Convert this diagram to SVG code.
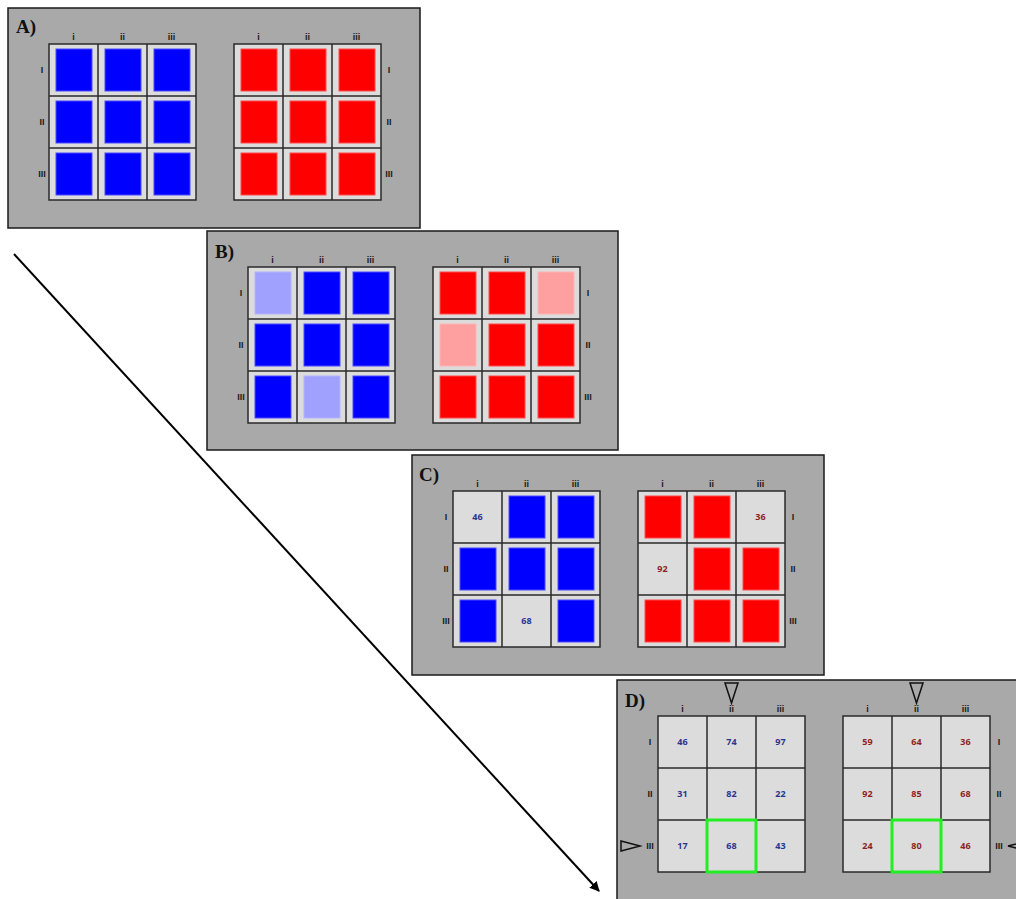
<svg xmlns="http://www.w3.org/2000/svg" width="1016" height="899" viewBox="0 0 1016 899">
<style>
.pbg{fill:#a9a9a9;stroke:#1a1a1a;stroke-width:1.5}
.grid{fill:#dcdcdc;stroke:#2a2a2a;stroke-width:1.5}
.gl{stroke:#2a2a2a;stroke-width:1.5}
.b{fill:#0000ff;stroke:#4a4aff;stroke-width:1}
.lb{fill:#a0a0ff;stroke:#b4b4ff;stroke-width:1}
.r{fill:#ff0000;stroke:#ff4a4a;stroke-width:1}
.lr{fill:#ffa0a0;stroke:#ffb4b4;stroke-width:1}
.ax{font-family:"Liberation Sans",Arial,sans-serif;font-weight:bold;font-size:9px;fill:#1a1a1a;text-anchor:middle}
.pl{font-family:"Liberation Serif","Times New Roman",serif;font-weight:bold;font-size:19px;fill:#111}
.nb{font-family:"Open Sans","Liberation Sans",sans-serif;font-weight:bold;font-size:9px;fill:#2a3590;text-anchor:middle}
.nr{font-family:"Open Sans","Liberation Sans",sans-serif;font-weight:bold;font-size:9px;fill:#8e1f1f;text-anchor:middle}
.hl{fill:none;stroke:#22ee22;stroke-width:3}
.tri{fill:none;stroke:#111;stroke-width:1.5}
.conn{stroke:#000;stroke-width:2;fill:none}
</style>
<defs>
<marker id="arr" viewBox="0 0 10 10" refX="9" refY="5" markerWidth="5" markerHeight="5" orient="auto" markerUnits="strokeWidth">
<path d="M0,0 L10,5 L0,10 z" fill="#000"/>
</marker>
<g id="frame">
<rect class="grid" x="41" y="36" width="147" height="156"/>
<line class="gl" x1="90" y1="36" x2="90" y2="192"/>
<line class="gl" x1="139" y1="36" x2="139" y2="192"/>
<line class="gl" x1="41" y1="88" x2="188" y2="88"/>
<line class="gl" x1="41" y1="140" x2="188" y2="140"/>
<rect class="grid" x="226" y="36" width="147" height="156"/>
<line class="gl" x1="275" y1="36" x2="275" y2="192"/>
<line class="gl" x1="324" y1="36" x2="324" y2="192"/>
<line class="gl" x1="226" y1="88" x2="373" y2="88"/>
<line class="gl" x1="226" y1="140" x2="373" y2="140"/>
</g>
</defs>

<g id="connectors">
<line class="conn" x1="14" y1="254" x2="599" y2="891" marker-end="url(#arr)"/>
</g>

<g id="panelA" transform="translate(8,8)">
<rect class="pbg" x="0" y="0" width="412" height="220"/>
<text class="pl" x="8" y="25">A)</text>
<use href="#frame"/>
<rect class="b" x="48" y="41" width="36" height="42"/><rect class="b" x="97" y="41" width="36" height="42"/><rect class="b" x="146" y="41" width="36" height="42"/>
<rect class="b" x="48" y="93" width="36" height="42"/><rect class="b" x="97" y="93" width="36" height="42"/><rect class="b" x="146" y="93" width="36" height="42"/>
<rect class="b" x="48" y="145" width="36" height="42"/><rect class="b" x="97" y="145" width="36" height="42"/><rect class="b" x="146" y="145" width="36" height="42"/>
<rect class="r" x="233" y="41" width="36" height="42"/><rect class="r" x="282" y="41" width="36" height="42"/><rect class="r" x="331" y="41" width="36" height="42"/>
<rect class="r" x="233" y="93" width="36" height="42"/><rect class="r" x="282" y="93" width="36" height="42"/><rect class="r" x="331" y="93" width="36" height="42"/>
<rect class="r" x="233" y="145" width="36" height="42"/><rect class="r" x="282" y="145" width="36" height="42"/><rect class="r" x="331" y="145" width="36" height="42"/>
<text class="ax" x="65.5" y="32">i</text><text class="ax" x="114.5" y="32">ii</text><text class="ax" x="163.5" y="32">iii</text>
<text class="ax" x="250.5" y="32">i</text><text class="ax" x="299.5" y="32">ii</text><text class="ax" x="348.5" y="32">iii</text>
<text class="ax" x="34" y="65">I</text><text class="ax" x="34" y="117">II</text><text class="ax" x="34" y="169">III</text>
<text class="ax" x="381" y="65">I</text><text class="ax" x="381" y="117">II</text><text class="ax" x="381" y="169">III</text>
</g>

<g id="panelB" transform="translate(207,231)">
<rect class="pbg" x="0" y="0" width="411" height="219"/>
<text class="pl" x="8" y="27">B)</text>
<use href="#frame"/>
<rect class="lb" x="48" y="41" width="36" height="42"/><rect class="b" x="97" y="41" width="36" height="42"/><rect class="b" x="146" y="41" width="36" height="42"/>
<rect class="b" x="48" y="93" width="36" height="42"/><rect class="b" x="97" y="93" width="36" height="42"/><rect class="b" x="146" y="93" width="36" height="42"/>
<rect class="b" x="48" y="145" width="36" height="42"/><rect class="lb" x="97" y="145" width="36" height="42"/><rect class="b" x="146" y="145" width="36" height="42"/>
<rect class="r" x="233" y="41" width="36" height="42"/><rect class="r" x="282" y="41" width="36" height="42"/><rect class="lr" x="331" y="41" width="36" height="42"/>
<rect class="lr" x="233" y="93" width="36" height="42"/><rect class="r" x="282" y="93" width="36" height="42"/><rect class="r" x="331" y="93" width="36" height="42"/>
<rect class="r" x="233" y="145" width="36" height="42"/><rect class="r" x="282" y="145" width="36" height="42"/><rect class="r" x="331" y="145" width="36" height="42"/>
<text class="ax" x="65.5" y="32">i</text><text class="ax" x="114.5" y="32">ii</text><text class="ax" x="163.5" y="32">iii</text>
<text class="ax" x="250.5" y="32">i</text><text class="ax" x="299.5" y="32">ii</text><text class="ax" x="348.5" y="32">iii</text>
<text class="ax" x="34" y="65">I</text><text class="ax" x="34" y="117">II</text><text class="ax" x="34" y="169">III</text>
<text class="ax" x="381" y="65">I</text><text class="ax" x="381" y="117">II</text><text class="ax" x="381" y="169">III</text>
</g>

<g id="panelC" transform="translate(412,455)">
<rect class="pbg" x="0" y="0" width="412" height="220"/>
<text class="pl" x="7" y="26">C)</text>
<use href="#frame"/>
<text class="nb" x="65.5" y="65">46</text><rect class="b" x="97" y="41" width="36" height="42"/><rect class="b" x="146" y="41" width="36" height="42"/>
<rect class="b" x="48" y="93" width="36" height="42"/><rect class="b" x="97" y="93" width="36" height="42"/><rect class="b" x="146" y="93" width="36" height="42"/>
<rect class="b" x="48" y="145" width="36" height="42"/><text class="nb" x="114.5" y="169">68</text><rect class="b" x="146" y="145" width="36" height="42"/>
<rect class="r" x="233" y="41" width="36" height="42"/><rect class="r" x="282" y="41" width="36" height="42"/><text class="nr" x="348.5" y="65">36</text>
<text class="nr" x="250.5" y="117">92</text><rect class="r" x="282" y="93" width="36" height="42"/><rect class="r" x="331" y="93" width="36" height="42"/>
<rect class="r" x="233" y="145" width="36" height="42"/><rect class="r" x="282" y="145" width="36" height="42"/><rect class="r" x="331" y="145" width="36" height="42"/>
<text class="ax" x="65.5" y="32">i</text><text class="ax" x="114.5" y="32">ii</text><text class="ax" x="163.5" y="32">iii</text>
<text class="ax" x="250.5" y="32">i</text><text class="ax" x="299.5" y="32">ii</text><text class="ax" x="348.5" y="32">iii</text>
<text class="ax" x="34" y="65">I</text><text class="ax" x="34" y="117">II</text><text class="ax" x="34" y="169">III</text>
<text class="ax" x="381" y="65">I</text><text class="ax" x="381" y="117">II</text><text class="ax" x="381" y="169">III</text>
</g>

<g id="panelD" transform="translate(617,680)">
<rect class="pbg" x="0" y="0" width="412" height="230"/>
<text class="pl" x="8" y="27">D)</text>
<use href="#frame"/>
<rect class="hl" x="90" y="140" width="49" height="52"/>
<rect class="hl" x="275" y="140" width="49" height="52"/>
<text class="nb" x="65.5" y="65">46</text><text class="nb" x="114.5" y="65">74</text><text class="nb" x="163.5" y="65">97</text>
<text class="nb" x="65.5" y="117">31</text><text class="nb" x="114.5" y="117">82</text><text class="nb" x="163.5" y="117">22</text>
<text class="nb" x="65.5" y="169">17</text><text class="nb" x="114.5" y="169">68</text><text class="nb" x="163.5" y="169">43</text>
<text class="nr" x="250.5" y="65">59</text><text class="nr" x="299.5" y="65">64</text><text class="nr" x="348.5" y="65">36</text>
<text class="nr" x="250.5" y="117">92</text><text class="nr" x="299.5" y="117">85</text><text class="nr" x="348.5" y="117">68</text>
<text class="nr" x="250.5" y="169">24</text><text class="nr" x="299.5" y="169">80</text><text class="nr" x="348.5" y="169">46</text>
<text class="ax" x="65.5" y="32">i</text><text class="ax" x="114.5" y="32">ii</text><text class="ax" x="163.5" y="32">iii</text>
<text class="ax" x="250.5" y="32">i</text><text class="ax" x="299.5" y="32">ii</text><text class="ax" x="348.5" y="32">iii</text>
<text class="ax" x="33" y="65">I</text><text class="ax" x="33" y="117">II</text><text class="ax" x="33" y="169">III</text>
<text class="ax" x="382" y="65">I</text><text class="ax" x="382" y="117">II</text><text class="ax" x="382" y="169">III</text>
<polygon class="tri" points="108,3 121,3 114.5,23"/>
<polygon class="tri" points="293,3 306,3 299.5,23"/>
<polygon class="tri" points="4,161 4,171 23,166"/>
<polygon class="tri" points="391,166 411,161 411,171"/>
</g>
</svg>
